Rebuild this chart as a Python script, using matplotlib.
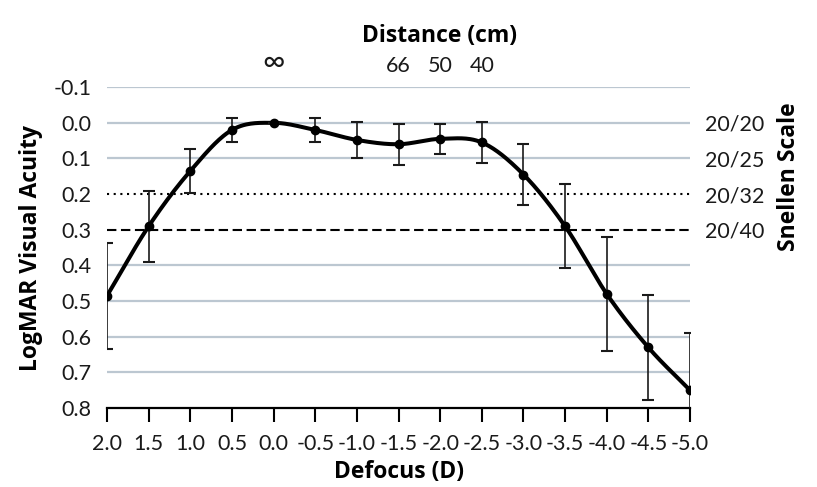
import matplotlib.pyplot as plt
import numpy as np

# data
defocus = [2.0, 1.5, 1.0, 0.5, 0.0, -0.5, -1.0, -1.5, -2.0, -2.5, -3.0, -3.5, -4.0, -4.5, -5.0]
logmar = [0.485, 0.29, 0.135, 0.02, 0.0, 0.02, 0.048, 0.06, 0.045, 0.055, 0.145, 0.29, 0.48, 0.63, 0.75]
err = [0.148, 0.10, 0.063, 0.033, 0.0, 0.033, 0.05, 0.057, 0.043, 0.057, 0.085, 0.118, 0.16, 0.148, 0.16]

y_ticks = [-0.1, 0.0, 0.1, 0.2, 0.3, 0.4, 0.5, 0.6, 0.7, 0.8]
dist_pos = [0.0, -1.5, -2.0, -2.5]
dist_labels = ['∞', '66', '50', '40']
snellen_pos = [0.0, 0.1, 0.2, 0.3]
snellen_labels = ['20/20', '20/25', '20/32', '20/40']

plt.rcParams['font.family'] = ['Open Sans', 'DejaVu Sans']
tick_kw = dict(fontfamily=['Lato', 'DejaVu Sans'], fontsize=15.5, color='#1a1a1a')
lab_kw = dict(fontsize=16.5, fontweight='bold')


def smooth(x, y, n=30):
    # catmull-rom like excel's smoothed line
    x = np.asarray(x, float); y = np.asarray(y, float)
    px = np.concatenate([[2 * x[0] - x[1]], x, [2 * x[-1] - x[-2]]])
    py = np.concatenate([[2 * y[0] - y[1]], y, [2 * y[-1] - y[-2]]])
    xs, ys = [], []
    t = np.linspace(0, 1, n)
    for i in range(1, len(px) - 2):
        p0, p1, p2, p3 = px[i - 1], px[i], px[i + 1], px[i + 2]
        q0, q1, q2, q3 = py[i - 1], py[i], py[i + 1], py[i + 2]
        c1x, c1y = p1 + (p2 - p0) / 6, q1 + (q2 - q0) / 6
        c2x, c2y = p2 - (p3 - p1) / 6, q2 - (q3 - q1) / 6
        bx = (1 - t) ** 3 * p1 + 3 * (1 - t) ** 2 * t * c1x + 3 * (1 - t) * t ** 2 * c2x + t ** 3 * p2
        by = (1 - t) ** 3 * q1 + 3 * (1 - t) ** 2 * t * c1y + 3 * (1 - t) * t ** 2 * c2y + t ** 3 * q2
        xs.extend(bx); ys.extend(by)
    return np.array(xs), np.array(ys)


fig = plt.figure(figsize=(8.17, 4.87), dpi=100)
ax = fig.add_axes([0.131, 0.162, 0.7136, 0.659])

grid_col = '#bcc7d1'
for v in y_ticks:
    if v == 0.2:
        ax.axhline(v, color='black', lw=1.5, ls=(0, (1, 2.2)), zorder=1)
    elif v == 0.3:
        ax.axhline(v, color='black', lw=1.5, ls=(0, (4.5, 2.2)), zorder=1)
    elif v != 0.8:
        ax.axhline(v, color=grid_col, lw=1.6, zorder=0)

sx, sy = smooth(defocus, logmar)
ax.plot(sx, sy, color='black', lw=2.9, zorder=3, solid_capstyle='round')
ax.errorbar(defocus, logmar, yerr=err, fmt='o', color='black', ms=6,
            ecolor='#1a1a1a', elinewidth=1.2, capsize=4, capthick=1.5, zorder=4)

ax.set_xlim(2.0, -5.0)
ax.set_ylim(0.8, -0.1)
ax.set_xticks(defocus)
ax.set_xticklabels([f'{v:.1f}' for v in defocus], **tick_kw)
ax.set_yticks(y_ticks)
ax.set_yticklabels([f'{v:.1f}' for v in y_ticks], **tick_kw)
ax.tick_params(axis='x', direction='out', length=10, width=1.5, pad=9)
ax.tick_params(axis='y', length=0, pad=11)
for s in ['top', 'right', 'left']:
    ax.spines[s].set_visible(False)
ax.spines['bottom'].set_linewidth(1.6)
ax.set_xlabel('Defocus (D)', labelpad=4, **lab_kw)
ax.set_ylabel('LogMAR Visual Acuity', labelpad=8, **lab_kw)

top = ax.twiny()
top.set_xlim(ax.get_xlim())
top.set_xticks(dist_pos)
top.set_xticklabels(dist_labels, **tick_kw)
top.get_xticklabels()[0].set_fontsize(22)
top.tick_params(axis='x', length=0, pad=8)
top.set_xlabel('Distance (cm)', **lab_kw)
top.xaxis.set_label_coords(0.571, 1.14)
for s in top.spines.values():
    s.set_visible(False)

right = ax.twinx()
right.set_ylim(ax.get_ylim())
right.set_yticks(snellen_pos)
right.set_yticklabels(snellen_labels, **tick_kw)
right.tick_params(axis='y', length=0, pad=11)
right.set_ylabel('Snellen Scale', **lab_kw)
right.yaxis.set_label_coords(1.15, 0.72)
for s in right.spines.values():
    s.set_visible(False)

fig.savefig('out.png', dpi=100)
